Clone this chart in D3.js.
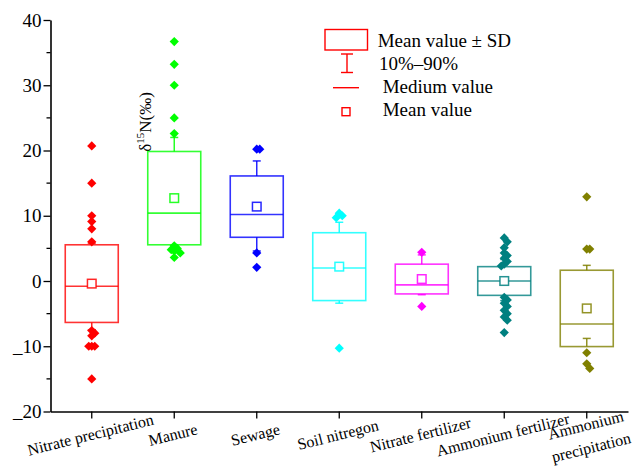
<!DOCTYPE html>
<html>
<head>
<meta charset="utf-8">
<script src="https://cdn.jsdelivr.net/npm/d3@7"></script>
<style>
  body { margin: 0; background: #fff; }
  svg { display: block; }
  text { font-family: "Liberation Serif", "Times New Roman", serif; }
</style>
</head>
<body>
<svg id="chart" width="635" height="466" font-family="Liberation Serif"></svg>
<script>
var SERIF = "Liberation Serif";

// groups along the x axis
var categories = ["Nitrate precipitation", "Manure", "Sewage", "Soil nitregon",
                  "Nitrate fertilizer", "Ammonium fertilizer", "Ammonium precipitation"];
var colors = ["#ff0000", "#00ff00", "#0000ff", "#00ffff", "#ff00ff", "#008080", "#808000"];

// summary stats
var means   = [-0.4, 12.7, 11.4, 2.2, 0.3, 0.0, -4.2];
var sds     = [5.95, 7.15, 4.7, 5.2, 2.28, 2.2, 5.85];
var medians = [-0.8, 10.4, 10.2, 2.0, -0.6, 0.0, -6.6];
var p10     = [-7.5, 5.3, 4.6, -3.4, -2.1, -3.0, -8.8];
var p90     = [5.8, 22.0, 18.4, 9.0, 4.0, 3.3, 2.4];

// individual samples
var points = [
  [20.7, 15.0, 10.0, 9.1, 8.0, 6.0, -7.6, -8.0, -8.4, -10.0, -10.0, -10.0, -15.0],
  [36.7, 33.2, 30.0, 25.0, 22.6, 5.4, 5.0, 4.8, 4.6, 4.3, 3.6],
  [20.2, 20.2, 4.3, 2.1],
  [10.4, 10.0, 9.7, -10.3],
  [4.4, -3.9],
  [6.6, 6.0, 5.1, 4.3, 3.9, 3.5, 3.0, 2.6, 2.3, -2.5, -2.9, -3.4, -3.9, -4.5, -5.0, -5.5, -6.0, -7.9],
  [12.9, 4.9, 4.9, -11.0, -12.7, -13.4]
];

var yTicks = [-20, -10, 0, 10, 20, 30, 40];
var yMinorTicks = [-15, -5, 5, 15, 25, 35];
var yTickLabels = ["_20", "_10", "0", "10", "20", "30", "40"];

var svg = d3.select("#chart");

var x = d3.scaleBand().domain(categories).range([50.5, 628]).padding(0);
var y = d3.scaleLinear().domain([-20, 40]).range([411.5, 20]);
var bw = 53;
var cx = function(i) { return x(categories[i]) + x.bandwidth() / 2; };

// axes
var yAxis = d3.axisLeft(y).tickValues(yTicks).tickSize(7).tickSizeOuter(0)
    .tickFormat(function(d, i) { return yTickLabels[i]; });
var gy = svg.append("g").attr("transform", "translate(50.5,0)").call(yAxis);
gy.attr("font-family", SERIF);
gy.selectAll("text").attr("font-size", 19).attr("font-family", SERIF).attr("fill", "#000").attr("x", -9);
gy.select(".domain").attr("stroke-width", 1.6);
gy.selectAll(".tick line").attr("stroke-width", 1.3);
svg.append("g").attr("transform", "translate(50.5,0)")
  .selectAll("line").data(yMinorTicks).enter().append("line")
    .attr("x1", -4).attr("x2", 0)
    .attr("y1", function(d) { return y(d); }).attr("y2", function(d) { return y(d); })
    .attr("stroke", "#000").attr("stroke-width", 1.3);

var xAxis = d3.axisBottom(x).tickSize(7).tickSizeOuter(0).tickFormat("");
var gx = svg.append("g").attr("transform", "translate(0,411.5)").call(xAxis);
gx.select(".domain").attr("stroke-width", 1.6);
gx.selectAll(".tick line").attr("stroke-width", 1.3);

// x labels, tilted
categories.forEach(function(c, i) {
  var words = c === "Ammonium precipitation" ? ["Ammonium", "precipitation"] : [c];
  var g = svg.append("g")
    .attr("transform", words.length > 1
      ? "translate(" + (cx(i) + 3) + ",441.5) rotate(-14)"
      : "translate(" + cx(i) + ",440) rotate(-14)");
  words.forEach(function(w, k) {
    g.append("text")
      .attr("text-anchor", "middle")
      .attr("y", words.length > 1 ? (k === 0 ? -11.5 : 11.5) : 0)
      .attr("font-family", SERIF)
      .attr("font-size", 16)
      .text(w);
  });
});

// y label
var yl = svg.append("text")
  .attr("transform", "translate(151,122) rotate(-90)")
  .attr("text-anchor", "middle")
  .attr("font-family", SERIF)
  .attr("font-size", 17);
yl.append("tspan").text("δ");
yl.append("tspan").attr("dy", -7).attr("font-size", 11).text("15");
yl.append("tspan").attr("dy", 7).text("N(‰)");

// boxes
var diamond = function(r) { return "M0," + (-r) + "L" + r + ",0L0," + r + "L" + (-r) + ",0Z"; };

categories.forEach(function(c, i) {
  var col = colors[i];
  var g = svg.append("g");
  var top = means[i] + sds[i], bot = means[i] - sds[i];

  // whiskers
  [[top, p90[i]], [bot, p10[i]]].forEach(function(w) {
    g.append("line").attr("x1", cx(i)).attr("x2", cx(i))
      .attr("y1", y(w[0])).attr("y2", y(w[1]))
      .attr("stroke", col).attr("stroke-width", 1.5).attr("stroke-opacity", 0.85);
    g.append("line").attr("x1", cx(i) - 4).attr("x2", cx(i) + 4)
      .attr("y1", y(w[1])).attr("y2", y(w[1]))
      .attr("stroke", col).attr("stroke-width", 1.5).attr("stroke-opacity", 0.85);
  });

  g.append("rect")
    .attr("x", cx(i) - bw / 2).attr("width", bw)
    .attr("y", y(top)).attr("height", y(bot) - y(top))
    .attr("fill", "none").attr("stroke", col)
    .attr("stroke-width", 1.6).attr("stroke-opacity", 0.8);

  g.append("line")
    .attr("x1", cx(i) - bw / 2).attr("x2", cx(i) + bw / 2)
    .attr("y1", y(medians[i])).attr("y2", y(medians[i]))
    .attr("stroke", col).attr("stroke-width", 1.6).attr("stroke-opacity", 0.8);

  // sample points, nudged sideways where they would overlap
  var placed = [];
  var offs = [0, 3, -3, 6, -6, 9, -9];
  points[i].forEach(function(v) {
    var py = y(v), dx = 0;
    for (var k = 0; k < offs.length; k++) {
      var clash = placed.some(function(p) { return Math.abs(p[1] - py) < 5 && Math.abs(p[0] - offs[k]) < 3; });
      if (!clash) { dx = offs[k]; break; }
    }
    placed.push([dx, py]);
    g.append("path")
      .attr("d", diamond(4.6))
      .attr("transform", "translate(" + (cx(i) + dx) + "," + py + ")")
      .attr("fill", col);
  });

  g.append("rect")
    .attr("x", cx(i) - 4.3).attr("y", y(means[i]) - 4.3)
    .attr("width", 8.6).attr("height", 8.6)
    .attr("fill", "#fff").attr("stroke", col).attr("stroke-width", 1.5).attr("stroke-opacity", 0.85);
});

// legend
var lg = svg.append("g").attr("font-size", 19).attr("font-family", SERIF);
lg.append("rect").attr("x", 325).attr("y", 29.5).attr("width", 42.5).attr("height", 20.5)
  .attr("fill", "none").attr("stroke", "#ff0000").attr("stroke-width", 1.4);
lg.append("line").attr("x1", 347).attr("x2", 347).attr("y1", 54).attr("y2", 72.5).attr("stroke", "#ff0000").attr("stroke-width", 1.4);
lg.append("line").attr("x1", 341).attr("x2", 353).attr("y1", 54).attr("y2", 54).attr("stroke", "#ff0000").attr("stroke-width", 1.4);
lg.append("line").attr("x1", 341).attr("x2", 353).attr("y1", 72.5).attr("y2", 72.5).attr("stroke", "#ff0000").attr("stroke-width", 1.4);
lg.append("line").attr("x1", 333).attr("x2", 359).attr("y1", 87.7).attr("y2", 87.7).attr("stroke", "#ff0000").attr("stroke-width", 1.4);
lg.append("rect").attr("x", 342).attr("y", 107.7).attr("width", 8).attr("height", 8)
  .attr("fill", "none").attr("stroke", "#ff0000").attr("stroke-width", 1.4);
lg.append("text").attr("font-family", SERIF).attr("x", 377.7).attr("y", 46.7).text("Mean value ± SD");
lg.append("text").attr("font-family", SERIF).attr("x", 379).attr("y", 70).text("10%–90%");
lg.append("text").attr("font-family", SERIF).attr("x", 382.7).attr("y", 93.3).text("Medium value");
lg.append("text").attr("font-family", SERIF).attr("x", 382.7).attr("y", 116).text("Mean value");
</script>
</body>
</html>
